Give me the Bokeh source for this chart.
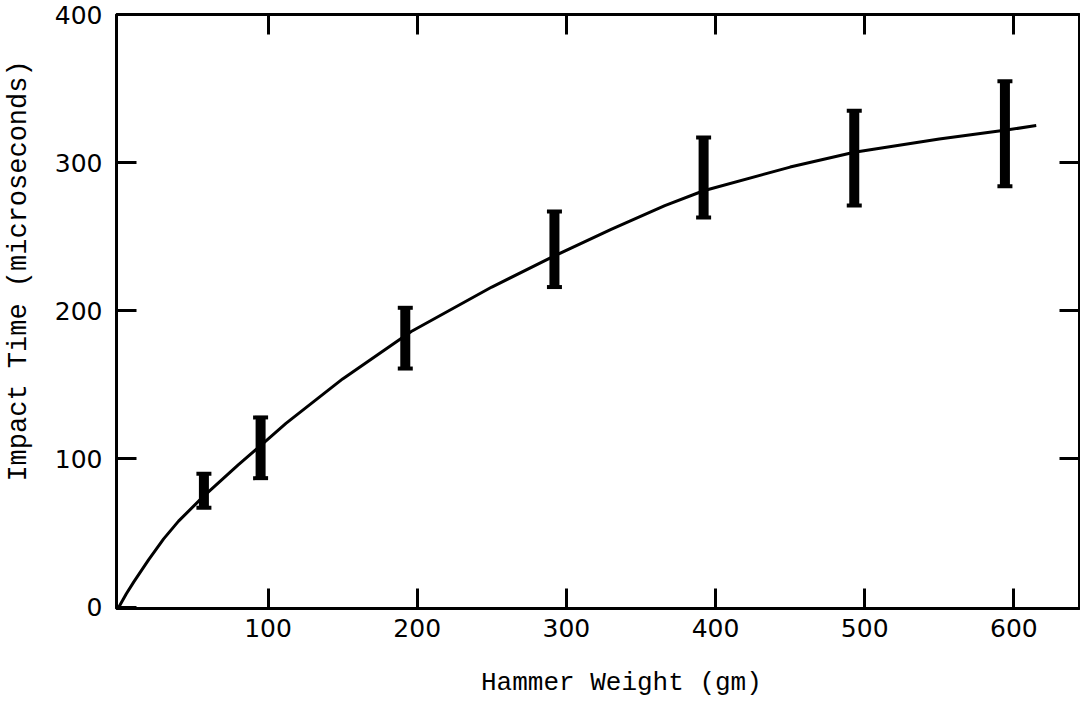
import numpy as np
from bokeh.plotting import figure
from bokeh.models import Range1d, LinearAxis, FixedTicker
from bokeh.embed import file_html
from bokeh.resources import INLINE

weights = [57, 95, 192, 292, 392, 493, 594]
time_low = [67, 87, 161, 216, 263, 271, 284]
time_high = [90, 128, 202, 267, 317, 335, 355]

curve_x = [0, 5, 10, 20, 30, 40, 56, 80, 95, 112, 150, 196, 250, 292, 330, 366, 392, 450, 493, 550, 595, 615]
curve_y = [0, 9, 17, 32, 46, 58, 74, 96, 109, 124, 154, 186, 216, 237, 255, 271, 281, 297, 307, 316, 322, 325]

x_ticks = [100, 200, 300, 400, 500, 600]
y_ticks = [0, 100, 200, 300, 400]

p = figure(width=1080, height=700, output_backend="svg", toolbar_location=None,
           x_range=Range1d(-1.6, 644), y_range=Range1d(-1, 400),
           min_border_left=114, min_border_right=1, min_border_top=14, min_border_bottom=89,
           x_axis_location=None, y_axis_location=None)
p.grid.visible = False
p.outline_line_color = "black"
p.outline_line_width = 3
p.background_fill_color = "white"
p.border_fill_color = "white"

label_font = "DejaVu Sans"
title_font = "Liberation Mono"

def mk_axis(ticks, show_labels):
    ax = LinearAxis(ticker=FixedTicker(ticks=ticks))
    ax.axis_line_color = "black"
    ax.axis_line_width = 3
    ax.major_tick_in = 20
    ax.major_tick_out = 0
    ax.major_tick_line_width = 3
    ax.major_tick_line_color = "black"
    ax.minor_tick_line_color = None
    if show_labels:
        ax.major_label_text_font = label_font
        ax.major_label_text_font_size = "25px"
        ax.major_label_text_color = "black"
        ax.axis_label_text_font = title_font
        ax.axis_label_text_font_size = "26px"
        ax.axis_label_text_font_style = "normal"
        ax.axis_label_text_color = "black"
    else:
        ax.major_label_text_font_size = "0px"
        ax.major_label_text_color = None
        ax.major_label_standoff = 0
    return ax

xb = mk_axis(x_ticks, True)
xb.major_label_standoff = 10
xb.axis_label = "\u00a0\u00a0\u00a0Hammer Weight (gm)"
xb.axis_label_standoff = 28
p.add_layout(xb, "below")
p.add_layout(mk_axis(x_ticks, False), "above")

yl = mk_axis(y_ticks, True)
yl.major_label_standoff = 14
yl.axis_label = "\u00a0\u00a0\u00a0\u00a0\u00a0Impact Time (microseconds)"
yl.axis_label_text_font_size = "27px"
yl.axis_label_standoff = 18
p.add_layout(yl, "left")
p.add_layout(mk_axis([100, 200, 300], False), "right")

# Fitted curve
p.line(curve_x, curve_y, line_color="black", line_width=3)

# Error bars
p.segment(x0=weights, y0=time_low, x1=weights, y1=time_high, line_color="black", line_width=10)
p.dash(weights, time_low, size=15, line_width=4, color="black")
p.dash(weights, time_high, size=15, line_width=4, color="black")

open("out.html", "w").write(file_html(p, INLINE))
